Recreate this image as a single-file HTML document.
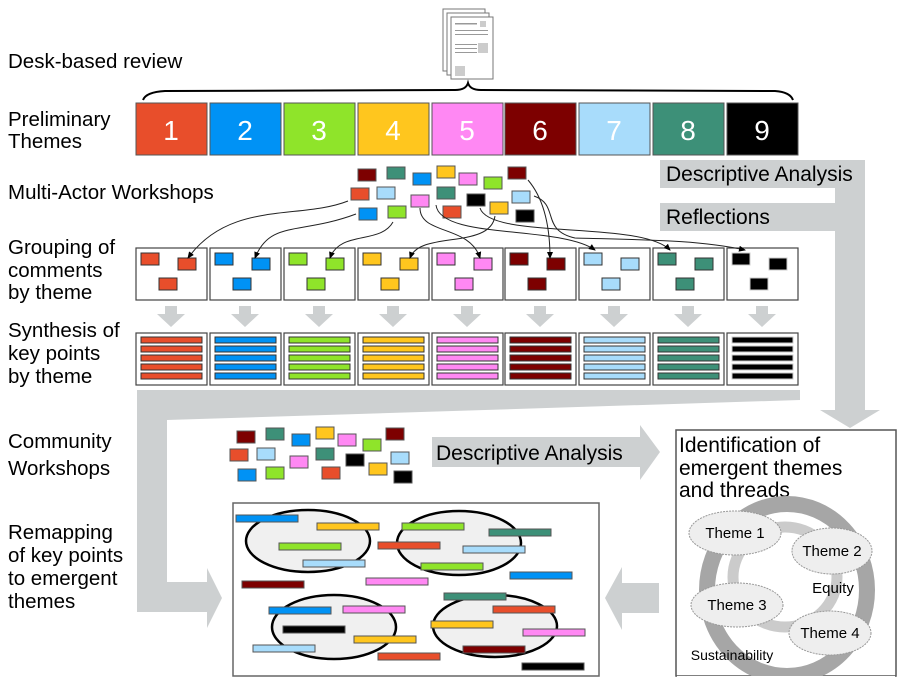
<!DOCTYPE html>
<html><head><meta charset="utf-8"><style>body{margin:0;background:#fff}svg{display:block}text{font-family:"Liberation Sans",sans-serif}</style></head>
<body>
<svg width="901" height="686" viewBox="0 0 901 686" xmlns="http://www.w3.org/2000/svg">
<defs><marker id="ah" markerWidth="8" markerHeight="8" refX="6" refY="4" orient="auto" markerUnits="userSpaceOnUse"><path d="M0,1 L7,4 L0,7z" fill="#000"/></marker></defs>
<g font-size="20.5" fill="#000">
<text x="8" y="68">Desk-based review</text>
<text x="8" y="126">Preliminary</text><text x="8" y="148">Themes</text>
<text x="8" y="199">Multi-Actor Workshops</text>
<text x="8" y="254">Grouping of</text><text x="8" y="277">comments</text><text x="8" y="299">by theme</text>
<text x="8" y="337">Synthesis of</text><text x="8" y="360">key points</text><text x="8" y="383">by theme</text>
<text x="8" y="448">Community</text><text x="8" y="475">Workshops</text>
<text x="8" y="539">Remapping</text><text x="8" y="562">of key points</text><text x="8" y="585">to emergent</text><text x="8" y="608">themes</text>
</g>
<!-- doc icon -->
<g stroke="#777" fill="#fff" stroke-width="1"><rect x="443" y="9" width="42" height="62"/><rect x="447" y="13" width="42" height="62"/><rect x="451" y="17" width="42" height="62"/></g>
<g fill="#999"><rect x="455" y="23" width="22" height="1.5"/><rect x="455" y="30" width="33" height="1"/><rect x="455" y="34" width="33" height="1"/><rect x="455" y="44" width="22" height="1"/><rect x="455" y="48" width="22" height="1"/><rect x="455" y="52" width="22" height="1"/><rect x="478" y="43" width="10" height="10" fill="#ccc"/><rect x="455" y="66" width="10" height="10" fill="#ccc"/><rect x="480" y="21" width="6" height="6" fill="#ccc"/></g>
<path d="M143,100 Q146,92 165,91 L455,90 Q466,90 468,83 Q470,90 481,90 L775,91 Q790,92 793,100" fill="none" stroke="#000" stroke-width="2"/>
<!-- theme boxes -->
<g stroke="#555" stroke-width="1">
<rect x="136" y="103" width="71" height="52" fill="#e84e2b"/><rect x="210" y="103" width="71" height="52" fill="#0092f5"/><rect x="284" y="103" width="71" height="52" fill="#8fe42a"/><rect x="358" y="103" width="71" height="52" fill="#ffc61e"/><rect x="432" y="103" width="71" height="52" fill="#ff88f3"/><rect x="505" y="103" width="71" height="52" fill="#7d0000"/><rect x="579" y="103" width="71" height="52" fill="#a8dcfb"/><rect x="653" y="103" width="71" height="52" fill="#3d9078"/><rect x="727" y="103" width="71" height="52" fill="#000"/>
</g>
<g font-size="28" fill="#fff" text-anchor="middle"><text x="171" y="140">1</text><text x="245" y="140">2</text><text x="319" y="140">3</text><text x="393" y="140">4</text><text x="467" y="140">5</text><text x="540" y="140">6</text><text x="614" y="140">7</text><text x="688" y="140">8</text><text x="762" y="140">9</text></g>
<!-- big gray arrows -->
<g fill="#cdd0d1">
<path d="M660,160 H865 V410 H880 L850,428 L820,410 H835 V188 H660Z"/>
<rect x="660" y="203" width="175" height="28"/>
<path d="M800,390 L800,400 L167,420 V582 H207 V568 L222,598 L207,628 V612 H137 V390Z"/>
<path d="M432,437 H640 V425 L660,452 L640,480 V467 H432Z"/>
<path d="M659,583 V613 H622 V630 L605,598 L622,567 V583Z"/>
</g>
<g font-size="21" fill="#000"><text x="666" y="181">Descriptive Analysis</text><text x="666" y="224">Reflections</text><text x="436" y="460">Descriptive Analysis</text></g>
<!-- scatter multi-actor -->
<g stroke="#555" stroke-width="1">
<rect x="358" y="169" width="18" height="12" fill="#7d0000"/><rect x="387" y="167" width="18" height="12" fill="#3d9078"/><rect x="413" y="173" width="18" height="12" fill="#0092f5"/><rect x="437" y="166" width="18" height="12" fill="#ffc61e"/><rect x="459" y="173" width="18" height="12" fill="#ff88f3"/><rect x="484" y="177" width="18" height="12" fill="#8fe42a"/><rect x="508" y="167" width="18" height="12" fill="#7d0000"/><rect x="351" y="188" width="18" height="12" fill="#e84e2b"/><rect x="377" y="187" width="18" height="12" fill="#a8dcfb"/><rect x="437" y="187" width="18" height="12" fill="#3d9078"/><rect x="411" y="195" width="18" height="12" fill="#ff88f3"/><rect x="467" y="194" width="18" height="12" fill="#000"/><rect x="512" y="191" width="18" height="12" fill="#a8dcfb"/><rect x="359" y="208" width="18" height="12" fill="#0092f5"/><rect x="388" y="206" width="18" height="12" fill="#8fe42a"/><rect x="443" y="206" width="18" height="12" fill="#e84e2b"/><rect x="490" y="202" width="18" height="12" fill="#ffc61e"/><rect x="516" y="210" width="18" height="12" fill="#000"/>
</g>
<!-- group boxes and synthesis -->
<g stroke="#444" stroke-width="1.2" fill="#fff">
<rect x="136" y="248" width="71" height="52"/><rect x="210" y="248" width="71" height="52"/><rect x="284" y="248" width="71" height="52"/><rect x="358" y="248" width="71" height="52"/><rect x="432" y="248" width="71" height="52"/><rect x="505" y="248" width="71" height="52"/><rect x="579" y="248" width="71" height="52"/><rect x="653" y="248" width="71" height="52"/><rect x="727" y="248" width="71" height="52"/>
<rect x="136" y="333" width="71" height="52"/><rect x="210" y="333" width="71" height="52"/><rect x="284" y="333" width="71" height="52"/><rect x="358" y="333" width="71" height="52"/><rect x="432" y="333" width="71" height="52"/><rect x="505" y="333" width="71" height="52"/><rect x="579" y="333" width="71" height="52"/><rect x="653" y="333" width="71" height="52"/><rect x="727" y="333" width="71" height="52"/>
</g>
<g stroke="#333" stroke-width="1">
<g fill="#e84e2b"><rect x="141" y="253" width="18" height="12"/><rect x="178" y="258" width="18" height="12"/><rect x="159" y="278" width="18" height="12"/><rect x="141" y="337" width="61" height="6"/><rect x="141" y="346" width="61" height="6"/><rect x="141" y="355" width="61" height="6"/><rect x="141" y="364" width="61" height="6"/><rect x="141" y="373" width="61" height="6"/></g>
<g fill="#0092f5" transform="translate(74,0)"><rect x="141" y="253" width="18" height="12"/><rect x="178" y="258" width="18" height="12"/><rect x="159" y="278" width="18" height="12"/><rect x="141" y="337" width="61" height="6"/><rect x="141" y="346" width="61" height="6"/><rect x="141" y="355" width="61" height="6"/><rect x="141" y="364" width="61" height="6"/><rect x="141" y="373" width="61" height="6"/></g>
<g fill="#8fe42a" transform="translate(148,0)"><rect x="141" y="253" width="18" height="12"/><rect x="178" y="258" width="18" height="12"/><rect x="159" y="278" width="18" height="12"/><rect x="141" y="337" width="61" height="6"/><rect x="141" y="346" width="61" height="6"/><rect x="141" y="355" width="61" height="6"/><rect x="141" y="364" width="61" height="6"/><rect x="141" y="373" width="61" height="6"/></g>
<g fill="#ffc61e" transform="translate(222,0)"><rect x="141" y="253" width="18" height="12"/><rect x="178" y="258" width="18" height="12"/><rect x="159" y="278" width="18" height="12"/><rect x="141" y="337" width="61" height="6"/><rect x="141" y="346" width="61" height="6"/><rect x="141" y="355" width="61" height="6"/><rect x="141" y="364" width="61" height="6"/><rect x="141" y="373" width="61" height="6"/></g>
<g fill="#ff88f3" transform="translate(296,0)"><rect x="141" y="253" width="18" height="12"/><rect x="178" y="258" width="18" height="12"/><rect x="159" y="278" width="18" height="12"/><rect x="141" y="337" width="61" height="6"/><rect x="141" y="346" width="61" height="6"/><rect x="141" y="355" width="61" height="6"/><rect x="141" y="364" width="61" height="6"/><rect x="141" y="373" width="61" height="6"/></g>
<g fill="#7d0000" transform="translate(369,0)"><rect x="141" y="253" width="18" height="12"/><rect x="178" y="258" width="18" height="12"/><rect x="159" y="278" width="18" height="12"/><rect x="141" y="337" width="61" height="6"/><rect x="141" y="346" width="61" height="6"/><rect x="141" y="355" width="61" height="6"/><rect x="141" y="364" width="61" height="6"/><rect x="141" y="373" width="61" height="6"/></g>
<g fill="#a8dcfb" transform="translate(443,0)"><rect x="141" y="253" width="18" height="12"/><rect x="178" y="258" width="18" height="12"/><rect x="159" y="278" width="18" height="12"/><rect x="141" y="337" width="61" height="6"/><rect x="141" y="346" width="61" height="6"/><rect x="141" y="355" width="61" height="6"/><rect x="141" y="364" width="61" height="6"/><rect x="141" y="373" width="61" height="6"/></g>
<g fill="#3d9078" transform="translate(517,0)"><rect x="141" y="253" width="18" height="12"/><rect x="178" y="258" width="18" height="12"/><rect x="159" y="278" width="18" height="12"/><rect x="141" y="337" width="61" height="6"/><rect x="141" y="346" width="61" height="6"/><rect x="141" y="355" width="61" height="6"/><rect x="141" y="364" width="61" height="6"/><rect x="141" y="373" width="61" height="6"/></g>
<g fill="#000" stroke="#ccc" transform="translate(591,0)"><rect x="141" y="253" width="18" height="12"/><rect x="178" y="258" width="18" height="12"/><rect x="159" y="278" width="18" height="12"/><rect x="141" y="337" width="61" height="6"/><rect x="141" y="346" width="61" height="6"/><rect x="141" y="355" width="61" height="6"/><rect x="141" y="364" width="61" height="6"/><rect x="141" y="373" width="61" height="6"/></g>
</g>
<!-- connectors (on top) -->
<g fill="none" stroke="#222" stroke-width="1" marker-end="url(#ah)">
<path d="M348,201 C300,220 230,200 188,258"/>
<path d="M356,214 C300,235 270,220 255,258"/>
<path d="M393,222 C380,245 340,230 330,258"/>
<path d="M495,216 C490,250 420,230 410,258"/>
<path d="M420,208 C420,235 470,225 480,258"/>
<path d="M528,180 C545,200 550,230 550,258"/>
<path d="M436,205 C440,240 560,225 595,250"/>
<path d="M480,208 C490,240 640,220 670,250"/>
<path d="M534,196 C560,205 540,230 575,238 C650,240 700,240 745,250"/>
</g>
<!-- small down arrows -->
<g fill="#cdd0d1">
<path d="M165,306 h12 v8 h8 l-14,13 l-14,-13 h8z"/><path transform="translate(74,0)" d="M165,306 h12 v8 h8 l-14,13 l-14,-13 h8z"/><path transform="translate(148,0)" d="M165,306 h12 v8 h8 l-14,13 l-14,-13 h8z"/><path transform="translate(222,0)" d="M165,306 h12 v8 h8 l-14,13 l-14,-13 h8z"/><path transform="translate(296,0)" d="M165,306 h12 v8 h8 l-14,13 l-14,-13 h8z"/><path transform="translate(369,0)" d="M165,306 h12 v8 h8 l-14,13 l-14,-13 h8z"/><path transform="translate(443,0)" d="M165,306 h12 v8 h8 l-14,13 l-14,-13 h8z"/><path transform="translate(517,0)" d="M165,306 h12 v8 h8 l-14,13 l-14,-13 h8z"/><path transform="translate(591,0)" d="M165,306 h12 v8 h8 l-14,13 l-14,-13 h8z"/>
</g>
<!-- community scatter -->
<g stroke="#555" stroke-width="1">
<rect x="237" y="431" width="18" height="12" fill="#7d0000"/><rect x="266" y="428" width="18" height="12" fill="#3d9078"/><rect x="292" y="434" width="18" height="12" fill="#0092f5"/><rect x="316" y="427" width="18" height="12" fill="#ffc61e"/><rect x="338" y="434" width="18" height="12" fill="#ff88f3"/><rect x="363" y="439" width="18" height="12" fill="#8fe42a"/><rect x="386" y="428" width="18" height="12" fill="#7d0000"/><rect x="230" y="449" width="18" height="12" fill="#e84e2b"/><rect x="257" y="448" width="18" height="12" fill="#a8dcfb"/><rect x="290" y="456" width="18" height="12" fill="#ff88f3"/><rect x="316" y="448" width="18" height="12" fill="#3d9078"/><rect x="346" y="454" width="18" height="12" fill="#000"/><rect x="391" y="452" width="18" height="12" fill="#a8dcfb"/><rect x="238" y="469" width="18" height="12" fill="#0092f5"/><rect x="266" y="467" width="18" height="12" fill="#8fe42a"/><rect x="322" y="467" width="18" height="12" fill="#e84e2b"/><rect x="369" y="463" width="18" height="12" fill="#ffc61e"/><rect x="394" y="471" width="18" height="12" fill="#000"/>
</g>
<!-- remapping box -->
<rect x="233" y="503" width="366" height="173" fill="#fff" stroke="#666" stroke-width="1.5"/>
<g fill="#f0f0f0" stroke="#000" stroke-width="2.5">
<ellipse cx="308" cy="541" rx="62" ry="31"/><ellipse cx="459" cy="543" rx="62" ry="32"/><ellipse cx="334" cy="627" rx="62" ry="32"/><ellipse cx="495" cy="626" rx="62" ry="31"/>
</g>
<g stroke="#555" stroke-width="1">
<rect x="236" y="515" width="62" height="7" fill="#0092f5"/><rect x="317" y="523" width="62" height="7" fill="#ffc61e"/><rect x="279" y="543" width="62" height="7" fill="#8fe42a"/><rect x="303" y="560" width="62" height="7" fill="#a8dcfb"/><rect x="402" y="523" width="62" height="7" fill="#8fe42a"/><rect x="489" y="529" width="62" height="7" fill="#3d9078"/><rect x="378" y="542" width="62" height="7" fill="#e84e2b"/><rect x="463" y="546" width="62" height="7" fill="#a8dcfb"/><rect x="421" y="563" width="62" height="7" fill="#8fe42a"/><rect x="510" y="572" width="62" height="7" fill="#0092f5"/><rect x="242" y="581" width="62" height="7" fill="#7d0000"/><rect x="366" y="578" width="62" height="7" fill="#ff88f3"/><rect x="444" y="593" width="62" height="7" fill="#3d9078"/><rect x="269" y="607" width="62" height="7" fill="#0092f5"/><rect x="343" y="606" width="62" height="7" fill="#ff88f3"/><rect x="493" y="606" width="62" height="7" fill="#e84e2b"/><rect x="283" y="626" width="62" height="7" fill="#000"/><rect x="431" y="621" width="62" height="7" fill="#ffc61e"/><rect x="354" y="636" width="62" height="7" fill="#ffc61e"/><rect x="523" y="629" width="62" height="7" fill="#ff88f3"/><rect x="253" y="645" width="62" height="7" fill="#a8dcfb"/><rect x="463" y="646" width="62" height="7" fill="#7d0000"/><rect x="378" y="653" width="62" height="7" fill="#e84e2b"/><rect x="522" y="663" width="62" height="7" fill="#000"/>
</g>
<!-- right panel -->
<rect x="676" y="430" width="220" height="246" fill="#fff" stroke="#555" stroke-width="1.5"/>
<g font-size="21"><text x="679" y="452">Identification of</text><text x="679" y="475">emergent themes</text><text x="679" y="497">and threads</text></g>
<ellipse cx="787" cy="590" rx="80" ry="86" fill="none" stroke="#a6a6a6" stroke-width="16"/>
<ellipse cx="785" cy="577" rx="52" ry="50" fill="none" stroke="#cbcbcb" stroke-width="11"/>
<rect x="677" y="676" width="218" height="10" fill="#fff"/>
<g fill="#eee" stroke="#999" stroke-width="1" stroke-dasharray="2,1">
<ellipse cx="735" cy="533" rx="46" ry="22"/><ellipse cx="832" cy="551" rx="40" ry="23"/><ellipse cx="737" cy="605" rx="46" ry="22"/><ellipse cx="830" cy="633" rx="41" ry="22"/>
</g>
<g font-size="15" text-anchor="middle"><text x="735" y="538">Theme 1</text><text x="832" y="556">Theme 2</text><text x="737" y="610">Theme 3</text><text x="830" y="638">Theme 4</text><text x="833" y="593">Equity</text><text x="732" y="660" font-size="14">Sustainability</text></g>
</svg>
</body></html>
